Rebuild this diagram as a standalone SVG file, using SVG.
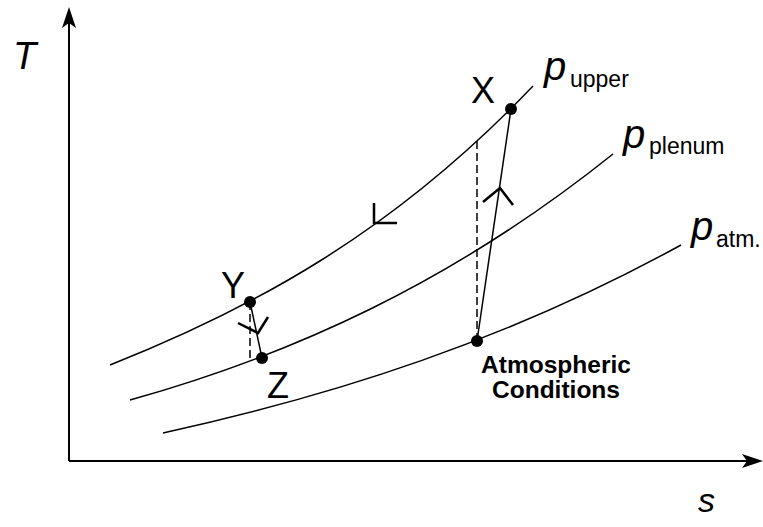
<svg xmlns="http://www.w3.org/2000/svg" width="763" height="527" viewBox="0 0 763 527">
<style>
.ax{stroke:#000;stroke-width:2;fill:none}
.crv{stroke:#000;stroke-width:1.5;fill:none}
.proc{stroke:#000;stroke-width:1.5;fill:none}
.dash{stroke:#000;stroke-width:1.5;fill:none;stroke-dasharray:8 4}
.chev{stroke:#000;stroke-width:2.5;fill:none}
.dot{fill:#000}
.lbl{font-family:"Liberation Sans",Arial,sans-serif;font-size:36px;fill:#000}
.it{font-family:"Liberation Sans",Arial,sans-serif;font-style:italic;fill:#000}
.sub{font-family:"Liberation Sans",Arial,sans-serif;font-size:23px;fill:#000}
.bold{font-family:"Liberation Sans",Arial,sans-serif;font-size:24.5px;font-weight:bold;fill:#000;text-anchor:middle}
</style>
<g id="axes">
<line class="ax" x1="69" y1="461" x2="69" y2="22"/>
<polygon points="69,7 62,28 69,23 76,28" fill="#000"/>
<line class="ax" x1="69" y1="461" x2="750" y2="461"/>
<polygon points="763,461 742,454 747,461 742,468" fill="#000"/>
<text class="it" x="13" y="69" font-size="38">T</text>
<text class="it" x="698" y="512" font-size="34">s</text>
</g>
<g id="isobars">
<path id="p-upper" class="crv" d="M110,365 C251,309 392,234 533,86"/>
<path id="p-plenum" class="crv" d="M130,400 C291,355 452,283 613,154"/>
<path id="p-atm" class="crv" d="M163,433 C336,395 508,340 681,245"/>
<polyline class="chev" points="374,203 374,223 397,223"/>
</g>
<g id="connectors">
<line class="dash" x1="250" y1="302" x2="250" y2="360"/>
<line class="dash" x1="477" y1="141" x2="477" y2="341"/>
<line class="proc" x1="250" y1="302" x2="262" y2="358"/>
<polyline class="chev" points="238,323 258,333 268,317"/>
<line class="proc" x1="477" y1="341" x2="511" y2="109"/>
<polyline class="chev" points="483,202 500,188 513,205"/>
</g>
<g id="node-X">
<circle class="dot" cx="511" cy="109" r="6"/>
<text class="lbl" x="471" y="103">X</text>
</g>
<g id="node-Y">
<circle class="dot" cx="250" cy="302" r="6"/>
<text class="lbl" x="221" y="298">Y</text>
</g>
<g id="node-Z">
<circle class="dot" cx="262" cy="358" r="6"/>
<text class="lbl" x="267" y="398">Z</text>
</g>
<g id="node-atm">
<circle class="dot" cx="477" cy="341" r="6"/>
<text class="bold" x="556" y="373">Atmospheric</text>
<text class="bold" x="556" y="398">Conditions</text>
</g>
<g id="label-upper">
<text class="it" x="544" y="80" font-size="40">p</text>
<text class="sub" x="570" y="87">upper</text>
</g>
<g id="label-plenum">
<text class="it" x="623" y="148" font-size="40">p</text>
<text class="sub" x="649" y="154">plenum</text>
</g>
<g id="label-atm">
<text class="it" x="691" y="240" font-size="40">p</text>
<text class="sub" x="716" y="247">atm.</text>
</g>
</svg>
